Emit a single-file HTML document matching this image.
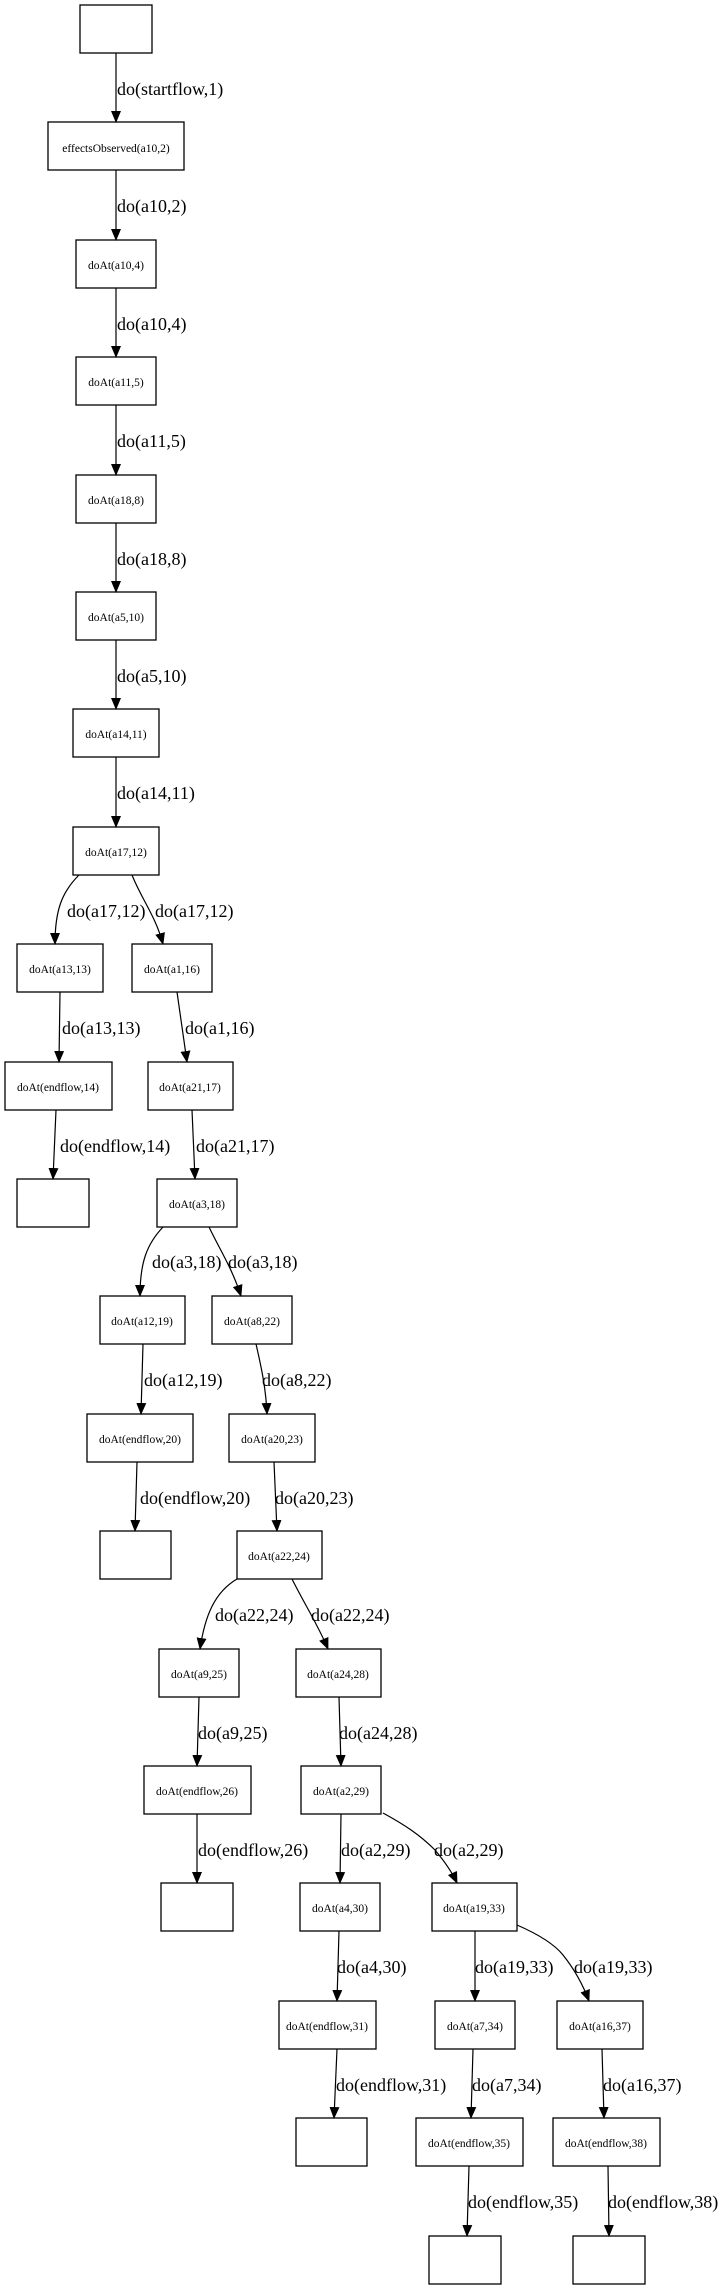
<!DOCTYPE html>
<html><head><meta charset="utf-8"><style>
html,body{margin:0;padding:0;background:#fff}
svg{display:block}
.n{fill:#fff;stroke:#000;stroke-width:1.3}
.t{font-family:"Liberation Serif",serif;font-size:11.5px;text-anchor:middle}
.l{font-family:"Liberation Serif",serif;font-size:18px}
.e{fill:none;stroke:#000;stroke-width:1.2}
</style></head><body>
<svg width="724" height="2288" viewBox="0 0 724 2288" xmlns="http://www.w3.org/2000/svg">
<defs><marker id="a" markerWidth="12" markerHeight="10" refX="11" refY="5" orient="auto" markerUnits="userSpaceOnUse"><path d="M0,0 L12,5 L0,10 z" fill="#000"/></marker></defs>
<g>
<rect class="n" x="80" y="5" width="72" height="48"/>
<rect class="n" x="48" y="122" width="136" height="48"/><text class="t" x="116" y="152">effectsObserved(a10,2)</text>
<rect class="n" x="76" y="240" width="80" height="48"/><text class="t" x="116" y="269">doAt(a10,4)</text>
<rect class="n" x="76" y="357" width="80" height="48"/><text class="t" x="116" y="386">doAt(a11,5)</text>
<rect class="n" x="76" y="475" width="80" height="48"/><text class="t" x="116" y="504">doAt(a18,8)</text>
<rect class="n" x="76" y="592" width="80" height="48"/><text class="t" x="116" y="621">doAt(a5,10)</text>
<rect class="n" x="73" y="709" width="86" height="48"/><text class="t" x="116" y="738">doAt(a14,11)</text>
<rect class="n" x="73" y="827" width="86" height="48"/><text class="t" x="116" y="856">doAt(a17,12)</text>
<rect class="n" x="17" y="944" width="86" height="48"/><text class="t" x="60" y="973">doAt(a13,13)</text>
<rect class="n" x="132" y="944" width="80" height="48"/><text class="t" x="172" y="973">doAt(a1,16)</text>
<rect class="n" x="5" y="1062" width="107" height="48"/><text class="t" x="58" y="1091">doAt(endflow,14)</text>
<rect class="n" x="148" y="1062" width="85" height="48"/><text class="t" x="190" y="1091">doAt(a21,17)</text>
<rect class="n" x="17" y="1179" width="72" height="48"/>
<rect class="n" x="157" y="1179" width="80" height="48"/><text class="t" x="197" y="1208">doAt(a3,18)</text>
<rect class="n" x="100" y="1296" width="85" height="48"/><text class="t" x="142" y="1325">doAt(a12,19)</text>
<rect class="n" x="212" y="1296" width="80" height="48"/><text class="t" x="252" y="1325">doAt(a8,22)</text>
<rect class="n" x="87" y="1414" width="106" height="48"/><text class="t" x="140" y="1443">doAt(endflow,20)</text>
<rect class="n" x="229" y="1414" width="86" height="48"/><text class="t" x="272" y="1443">doAt(a20,23)</text>
<rect class="n" x="100" y="1531" width="71" height="48"/>
<rect class="n" x="237" y="1531" width="85" height="48"/><text class="t" x="279" y="1560">doAt(a22,24)</text>
<rect class="n" x="159" y="1649" width="80" height="48"/><text class="t" x="199" y="1678">doAt(a9,25)</text>
<rect class="n" x="296" y="1649" width="85" height="48"/><text class="t" x="338" y="1678">doAt(a24,28)</text>
<rect class="n" x="144" y="1766" width="107" height="48"/><text class="t" x="197" y="1795">doAt(endflow,26)</text>
<rect class="n" x="301" y="1766" width="80" height="48"/><text class="t" x="341" y="1795">doAt(a2,29)</text>
<rect class="n" x="161" y="1883" width="72" height="48"/>
<rect class="n" x="300" y="1883" width="80" height="48"/><text class="t" x="340" y="1912">doAt(a4,30)</text>
<rect class="n" x="432" y="1883" width="85" height="48"/><text class="t" x="474" y="1912">doAt(a19,33)</text>
<rect class="n" x="279" y="2001" width="97" height="48"/><text class="t" x="327" y="2030">doAt(endflow,31)</text>
<rect class="n" x="435" y="2001" width="80" height="48"/><text class="t" x="475" y="2030">doAt(a7,34)</text>
<rect class="n" x="557" y="2001" width="86" height="48"/><text class="t" x="600" y="2030">doAt(a16,37)</text>
<rect class="n" x="296" y="2118" width="71" height="48"/>
<rect class="n" x="416" y="2118" width="107" height="48"/><text class="t" x="469" y="2147">doAt(endflow,35)</text>
<rect class="n" x="553" y="2118" width="107" height="48"/><text class="t" x="606" y="2147">doAt(endflow,38)</text>
<rect class="n" x="429" y="2236" width="72" height="48"/>
<rect class="n" x="573" y="2236" width="72" height="48"/>
</g>
<g>
<path class="e" marker-end="url(#a)" d="M116,53 L116,122"/><text class="l" x="117" y="95">do(startflow,1)</text>
<path class="e" marker-end="url(#a)" d="M116,170 L116,240"/><text class="l" x="117" y="212">do(a10,2)</text>
<path class="e" marker-end="url(#a)" d="M116,288 L116,357"/><text class="l" x="117" y="330">do(a10,4)</text>
<path class="e" marker-end="url(#a)" d="M116,405 L116,475"/><text class="l" x="117" y="447">do(a11,5)</text>
<path class="e" marker-end="url(#a)" d="M116,523 L116,592"/><text class="l" x="117" y="565">do(a18,8)</text>
<path class="e" marker-end="url(#a)" d="M116,640 L116,709"/><text class="l" x="117" y="682">do(a5,10)</text>
<path class="e" marker-end="url(#a)" d="M116,757 L116,827"/><text class="l" x="117" y="799">do(a14,11)</text>
<path class="e" marker-end="url(#a)" d="M79,875 C62,892 55,910 55,944"/><text class="l" x="67" y="917">do(a17,12)</text>
<path class="e" marker-end="url(#a)" d="M132,875 C142,900 155,915 163,944"/><text class="l" x="155" y="917">do(a17,12)</text>
<path class="e" marker-end="url(#a)" d="M60,992 L59,1062"/><text class="l" x="62" y="1034">do(a13,13)</text>
<path class="e" marker-end="url(#a)" d="M177,992 L187,1062"/><text class="l" x="185" y="1034">do(a1,16)</text>
<path class="e" marker-end="url(#a)" d="M56,1110 L53,1179"/><text class="l" x="60" y="1152">do(endflow,14)</text>
<path class="e" marker-end="url(#a)" d="M192,1110 L195,1179"/><text class="l" x="196" y="1152">do(a21,17)</text>
<path class="e" marker-end="url(#a)" d="M163,1227 C147,1244 140,1262 140,1296"/><text class="l" x="152" y="1268">do(a3,18)</text>
<path class="e" marker-end="url(#a)" d="M209,1227 C220,1250 232,1268 241,1296"/><text class="l" x="228" y="1268">do(a3,18)</text>
<path class="e" marker-end="url(#a)" d="M143,1344 L141,1414"/><text class="l" x="144" y="1386">do(a12,19)</text>
<path class="e" marker-end="url(#a)" d="M256,1344 C262,1370 266,1390 267,1414"/><text class="l" x="262" y="1386">do(a8,22)</text>
<path class="e" marker-end="url(#a)" d="M137,1462 L135,1531"/><text class="l" x="140" y="1504">do(endflow,20)</text>
<path class="e" marker-end="url(#a)" d="M274,1462 L277,1531"/><text class="l" x="275" y="1504">do(a20,23)</text>
<path class="e" marker-end="url(#a)" d="M237,1579 C215,1592 205,1615 200,1649"/><text class="l" x="215" y="1621">do(a22,24)</text>
<path class="e" marker-end="url(#a)" d="M292,1579 C305,1605 318,1625 328,1649"/><text class="l" x="311" y="1621">do(a22,24)</text>
<path class="e" marker-end="url(#a)" d="M199,1697 L197,1766"/><text class="l" x="198" y="1739">do(a9,25)</text>
<path class="e" marker-end="url(#a)" d="M339,1697 L341,1766"/><text class="l" x="339" y="1739">do(a24,28)</text>
<path class="e" marker-end="url(#a)" d="M197,1814 L197,1883"/><text class="l" x="198" y="1856">do(endflow,26)</text>
<path class="e" marker-end="url(#a)" d="M341,1814 L340,1883"/><text class="l" x="341" y="1856">do(a2,29)</text>
<path class="e" marker-end="url(#a)" d="M383,1813 C405,1825 420,1835 435,1850 C445,1862 452,1872 457,1883"/><text class="l" x="434" y="1856">do(a2,29)</text>
<path class="e" marker-end="url(#a)" d="M339,1931 L337,2001"/><text class="l" x="337" y="1973">do(a4,30)</text>
<path class="e" marker-end="url(#a)" d="M475,1931 L475,2001"/><text class="l" x="475" y="1973">do(a19,33)</text>
<path class="e" marker-end="url(#a)" d="M517,1925 C540,1935 555,1945 563,1955 C575,1970 583,1985 589,2001"/><text class="l" x="574" y="1973">do(a19,33)</text>
<path class="e" marker-end="url(#a)" d="M337,2049 L334,2118"/><text class="l" x="336" y="2091">do(endflow,31)</text>
<path class="e" marker-end="url(#a)" d="M473,2049 L471,2118"/><text class="l" x="472" y="2091">do(a7,34)</text>
<path class="e" marker-end="url(#a)" d="M602,2049 L604,2118"/><text class="l" x="603" y="2091">do(a16,37)</text>
<path class="e" marker-end="url(#a)" d="M469,2166 L467,2236"/><text class="l" x="468" y="2208">do(endflow,35)</text>
<path class="e" marker-end="url(#a)" d="M608,2166 L609,2236"/><text class="l" x="608" y="2208">do(endflow,38)</text>
</g>
</svg>
</body></html>
